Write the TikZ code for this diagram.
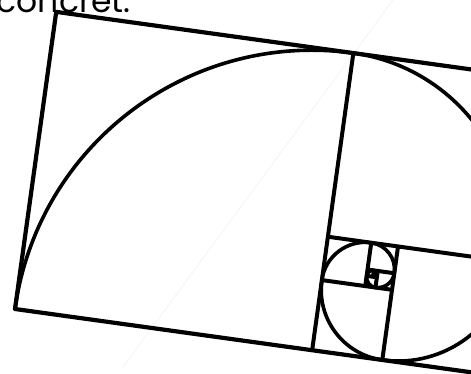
\documentclass[tikz,border=0pt]{standalone}
\usepackage{fontspec}
\setmainfont{Poppins}
\usetikzlibrary{calc}
\tikzset{
  frame/.style={draw,line width=4.2pt,line join=round},
  divider/.style={line width=4pt},
  spiral/.style={line width=3.6pt},
  guide/.style={line width=1pt,black!4},
  every node/.style={font=\fontsize{33}{33}\selectfont}
}
\begin{document}
\begin{tikzpicture}[x=1pt,y=1pt]
\useasboundingbox (0,0) rectangle (471,374);
\clip (0,0) rectangle (471,374);
\coordinate (g1) at (123,7);
\coordinate (g2) at (393,374);
\draw[guide] (g1) -- (g2);
\node[anchor=base east,inner sep=0pt] (word) at (131,361.5) {concret.};
\begin{scope}[shift={(15,65)},rotate=-7.9]
\coordinate (A) at (0,0);
\coordinate (B) at (485.41,0);
\coordinate (C) at (485.41,300);
\coordinate (D) at (0,300);
\draw[frame] (A)--(B)--(C)--(D)--cycle;
% squares
\draw[divider] (300,0) -- (300,300);
\draw[divider] (300,114.59) -- (485.41,114.59);
\draw[divider] (370.82,0) -- (370.82,114.59);
\draw[divider] (300,70.82) -- (370.82,70.82);
\draw[divider] (343.77,70.82) -- (343.77,114.59);
\draw[divider] (343.77,87.54) -- (370.82,87.54);
\draw[divider] (354.10,70.82) -- (354.10,87.54);
\draw[divider] (343.77,81.15) -- (354.10,81.15);
\draw[divider] (350.16,81.15) -- (350.16,87.54);
\draw[divider] (350.16,83.59) -- (354.10,83.59);
% spiral
\draw[spiral] (A) \foreach \k in {0,...,9}{
  arc[start angle=180-90*\k, end angle=90-90*\k, radius={300pt/1.618034^\k}]};
\end{scope}
\end{tikzpicture}
\end{document}
